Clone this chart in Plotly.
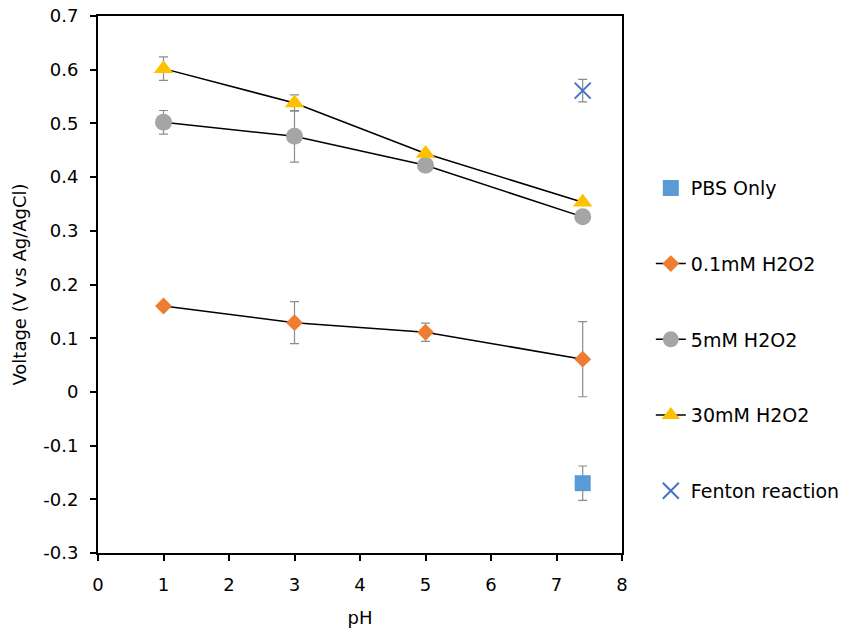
import plotly.graph_objects as go

ph = [1, 3, 5, 7.4]
ph_single = [7.4]

pbs_only = [-0.170]
pbs_err = [0.032]

h2o2_01 = [0.160, 0.129, 0.111, 0.061]
h2o2_01_err = [0.004, 0.039, 0.017, 0.070]

h2o2_5 = [0.502, 0.476, 0.422, 0.326]
h2o2_5_err = [0.022, 0.048, 0.006, 0.006]

h2o2_30 = [0.602, 0.538, 0.444, 0.353]
h2o2_30_err = [0.022, 0.015, 0.004, 0.004]

fenton = [0.561]
fenton_err = [0.021]

y_ticks = [-0.3, -0.2, -0.1, 0, 0.1, 0.2, 0.3, 0.4, 0.5, 0.6, 0.7]
y_ticktext = ["-0.3", "-0.2", "-0.1", "0", "0.1", "0.2", "0.3", "0.4", "0.5", "0.6", "0.7"]
x_ticks = [0, 1, 2, 3, 4, 5, 6, 7, 8]

FONT = "'DejaVu Sans', sans-serif"
ERRCOL = "#8c8c8c"

def err(vals):
    return dict(type="data", array=vals, visible=True, color=ERRCOL, thickness=1.2, width=4.5)

fig = go.Figure()
fig.add_trace(go.Scatter(x=ph_single, y=pbs_only, mode="markers", name="PBS Only",
                         legendgroup="a",
                         marker=dict(symbol="square", size=16, color="#5b9bd5"),
                         error_y=err(pbs_err)))
fig.add_trace(go.Scatter(x=ph, y=h2o2_01, mode="lines+markers", name="0.1mM H2O2",
                         legendgroup="b",
                         line=dict(color="black", width=1.5),
                         marker=dict(symbol="diamond", size=13, color="#ed7d31"),
                         error_y=err(h2o2_01_err)))
fig.add_trace(go.Scatter(x=ph, y=h2o2_5, mode="lines+markers", name="5mM H2O2",
                         legendgroup="c",
                         line=dict(color="black", width=1.5),
                         marker=dict(symbol="circle", size=17, color="#a5a5a5"),
                         error_y=err(h2o2_5_err)))
fig.add_trace(go.Scatter(x=ph, y=h2o2_30, mode="lines+markers", name="30mM H2O2",
                         legendgroup="d",
                         line=dict(color="black", width=1.5),
                         marker=dict(symbol="triangle-up", size=17, color="#ffc000"),
                         error_y=err(h2o2_30_err)))
fig.add_trace(go.Scatter(x=ph_single, y=fenton, mode="markers", name="Fenton reaction",
                         legendgroup="e",
                         marker=dict(symbol="x-thin", size=16, color="#4472c4",
                                     line=dict(color="#4472c4", width=2)),
                         error_y=err(fenton_err)))

fig.update_layout(
    width=853, height=637,
    margin=dict(l=98, r=231, t=16, b=84, autoexpand=False),
    paper_bgcolor="white", plot_bgcolor="white",
    font=dict(family=FONT, size=18, color="black"),
    showlegend=True,
    legend=dict(x=1.055, y=0.715, xanchor="left", yanchor="top",
                font=dict(family=FONT, size=19, color="black"),
                tracegroupgap=48, itemwidth=30, bgcolor="rgba(0,0,0,0)"),
)
fig.update_xaxes(range=[0, 8], tickvals=x_ticks, showgrid=False, zeroline=False,
                 showline=True, linecolor="black", linewidth=2, mirror=True,
                 ticks="outside", ticklen=6, tickcolor="black", tickwidth=2,
                 ticklabelstandoff=8,
                 title=dict(text="pH", font=dict(family=FONT, size=18), standoff=18),
                 tickfont=dict(family=FONT, size=18))
fig.update_yaxes(range=[-0.3, 0.7], tickvals=y_ticks, ticktext=y_ticktext,
                 showgrid=False, zeroline=False,
                 showline=True, linecolor="black", linewidth=2, mirror=True,
                 ticks="outside", ticklen=6, tickcolor="black", tickwidth=2,
                 ticklabelstandoff=8,
                 title=dict(text="Voltage (V vs Ag/AgCl)", font=dict(family=FONT, size=18), standoff=12),
                 tickfont=dict(family=FONT, size=18))

fig.write_html("out.html")
